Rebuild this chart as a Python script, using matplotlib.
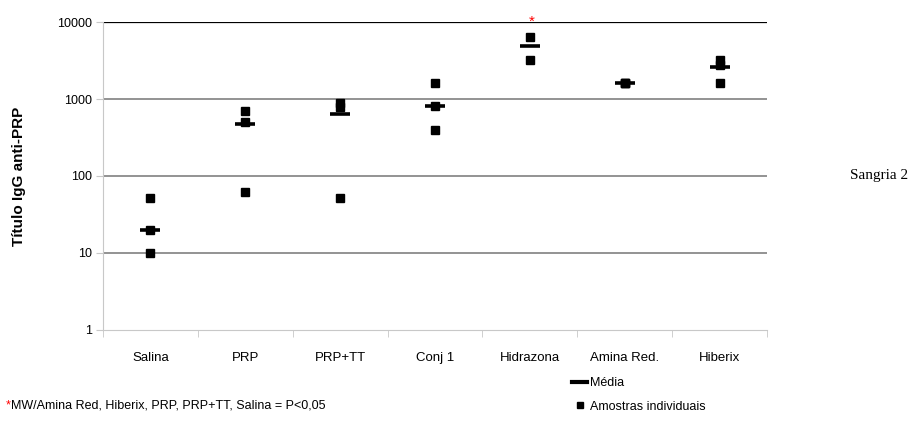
import numpy as np
import matplotlib.pyplot as plt
from matplotlib.lines import Line2D

plt.rcParams['font.family'] = ['Liberation Sans', 'DejaVu Sans']

groups = ["Salina", "PRP", "PRP+TT", "Conj 1", "Hidrazona", "Amina Red.", "Hiberix"]
samples = [
    [51, 20, 10],
    [700, 500, 62],
    [900, 780, 51],
    [1600, 800, 400],
    [6400, 3200],
    [1600, 1600, 1600],
    [3200, 2800, 1600],
]
means = [20, 480, 640, 800, 4900, 1600, 2600]
starred = "Hidrazona"

fig = plt.figure(figsize=(9.12, 4.24), dpi=100)
ax = fig.add_axes([0.113, 0.222, 0.728, 0.726])

x = np.arange(len(groups))
for i, vals in enumerate(samples):
    ax.plot([i] * len(vals), vals, 's', color='black', markersize=6.3, zorder=3)
ax.plot(x, means, '_', color='black', markersize=15, markeredgewidth=2.6, zorder=4)

# significance mark above the highest group
si = groups.index(starred)
ax.text(si + 0.02, 10000, '*', color='red', ha='center', va='center', fontsize=11)

ax.set_yscale('log')
ax.set_ylim(1, 10000)
ax.set_xlim(-0.5, len(groups) - 0.5)
ax.set_yticks([1, 10, 100, 1000, 10000])
ax.set_yticklabels(['1', '10', '100', '1000', '10000'])
ax.minorticks_off()
ax.set_xticks(x)
ax.set_xticklabels(groups)
ax.set_xticks(np.arange(len(groups) + 1) - 0.5, minor=True)

for y in [10, 100, 1000]:
    ax.axhline(y, color='#808080', linewidth=1.2, zorder=1)
ax.axhline(10000, color='black', linewidth=0.9, zorder=1)

for s in ['top', 'right']:
    ax.spines[s].set_visible(False)
ax.spines['left'].set_color('#c8c8c8')
ax.spines['bottom'].set_color('#c8c8c8')
ax.tick_params(axis='y', colors='#c8c8c8', labelcolor='black', labelsize=9, length=5, pad=3)
ax.tick_params(axis='x', which='major', length=0, labelsize=9.5, pad=16)
ax.tick_params(axis='x', which='minor', colors='#c8c8c8', length=5)

ax.set_ylabel('Título IgG anti-PRP', fontsize=11, fontweight='bold', labelpad=22)

fig.text(0.932, 0.585, 'Sangria 2', family='Liberation Serif', fontsize=11,
         ha='left', va='center')

# footnote
fig.text(0.006, 0.03, '*', color='red', fontsize=9, ha='left', va='bottom')
fig.text(0.012, 0.03, 'MW/Amina Red, Hiberix, PRP, PRP+TT, Salina = P<0,05',
         fontsize=9, ha='left', va='bottom')

handles = [
    Line2D([], [], color='black', linewidth=3),
    Line2D([], [], marker='s', color='black', linestyle='none', markersize=4),
]
fig.legend(handles, ['Média', 'Amostras individuais'], loc='lower left',
           bbox_to_anchor=(0.615, 0.0), frameon=False, fontsize=9,
           handlelength=1.2, handletextpad=0.2, labelspacing=0.9)

fig.savefig('out.png', dpi=100)
